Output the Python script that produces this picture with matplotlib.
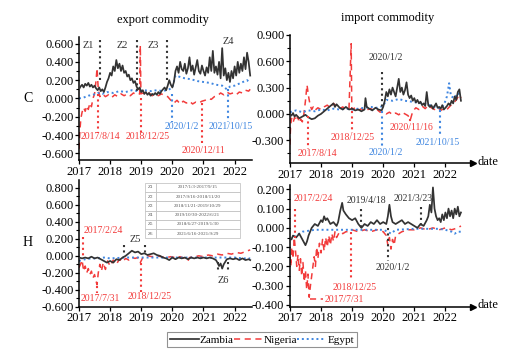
import matplotlib
matplotlib.use("Agg")
import matplotlib.pyplot as plt
from matplotlib.ticker import FormatStrFormatter, MultipleLocator, AutoMinorLocator
from matplotlib.lines import Line2D

plt.rcParams['font.family'] = ['Liberation Serif', 'DejaVu Serif']
plt.rcParams['axes.unicode_minus'] = False

BLACK = '#333333'
RED = '#f23b3b'
BLUE = '#3f86e0'

# ---- data: (decimal year, value) ----
zam_exp_c = [(2017.00, 0.10), (2017.05, 0.13), (2017.10, 0.15), (2017.15, 0.12), (2017.20, 0.16), (2017.25, 0.14),
             (2017.30, 0.17), (2017.35, 0.13), (2017.40, 0.15), (2017.45, 0.12), (2017.50, 0.14), (2017.55, 0.11),
             (2017.60, 0.09), (2017.65, 0.12), (2017.70, 0.08), (2017.75, 0.10), (2017.80, 0.07), (2017.85, 0.12),
             (2017.90, 0.18), (2017.95, 0.22), (2018.00, 0.28), (2018.05, 0.25), (2018.10, 0.35), (2018.15, 0.30),
             (2018.20, 0.42), (2018.25, 0.33), (2018.30, 0.38), (2018.35, 0.30), (2018.40, 0.36), (2018.45, 0.28),
             (2018.50, 0.30), (2018.55, 0.24), (2018.60, 0.26), (2018.65, 0.20), (2018.70, 0.22), (2018.75, 0.17),
             (2018.80, 0.19), (2018.85, 0.13), (2018.90, 0.10), (2018.95, 0.12), (2019.00, 0.07), (2019.05, 0.09),
             (2019.10, 0.05), (2019.15, 0.07), (2019.20, 0.04), (2019.25, 0.06), (2019.30, 0.03), (2019.35, 0.05),
             (2019.40, 0.04), (2019.45, 0.06), (2019.50, 0.04), (2019.55, 0.07), (2019.60, 0.05), (2019.65, 0.08),
             (2019.70, 0.10), (2019.75, 0.12), (2019.80, 0.09), (2019.85, 0.14), (2019.90, 0.20), (2019.95, 0.15),
             (2020.00, 0.12), (2020.05, 0.18), (2020.10, 0.30), (2020.15, 0.35), (2020.20, 0.28), (2020.25, 0.40),
             (2020.30, 0.32), (2020.35, 0.30), (2020.40, 0.38), (2020.45, 0.27), (2020.50, 0.33), (2020.55, 0.45),
             (2020.60, 0.30), (2020.65, 0.36), (2020.70, 0.26), (2020.75, 0.34), (2020.80, 0.42), (2020.85, 0.30),
             (2020.90, 0.27), (2020.95, 0.36), (2021.00, 0.30), (2021.05, 0.25), (2021.10, 0.34), (2021.15, 0.28),
             (2021.20, 0.45), (2021.25, 0.30), (2021.30, 0.52), (2021.35, 0.28), (2021.40, 0.35), (2021.45, 0.26),
             (2021.50, 0.40), (2021.55, 0.22), (2021.60, 0.55), (2021.65, 0.25), (2021.70, 0.33), (2021.75, 0.20),
             (2021.80, 0.28), (2021.85, 0.18), (2021.90, 0.30), (2021.95, 0.22), (2022.00, 0.35), (2022.05, 0.25),
             (2022.10, 0.40), (2022.15, 0.28), (2022.20, 0.38), (2022.25, 0.30), (2022.30, 0.45), (2022.35, 0.32),
             (2022.40, 0.50), (2022.45, 0.40), (2022.50, 0.25)]

nga_exp_c = [(2017.00, -0.55), (2017.03, -0.35), (2017.06, -0.22), (2017.10, -0.15), (2017.15, -0.10), (2017.20, -0.14),
             (2017.25, -0.08), (2017.30, -0.12), (2017.35, -0.05), (2017.40, -0.09), (2017.45, 0.00), (2017.50, 0.05),
             (2017.55, 0.20), (2017.58, 0.33), (2017.62, 0.10), (2017.67, 0.02), (2017.75, 0.05), (2017.85, 0.02),
             (2017.95, 0.04), (2018.05, 0.01), (2018.15, 0.04), (2018.25, 0.02), (2018.35, 0.05), (2018.45, 0.03),
             (2018.55, 0.05), (2018.65, 0.03), (2018.75, 0.06), (2018.85, 0.04), (2018.95, 0.05), (2018.97, 0.58),
             (2018.99, 0.05), (2019.05, 0.06), (2019.15, 0.04), (2019.25, 0.06), (2019.35, 0.03), (2019.45, 0.05),
             (2019.55, 0.03), (2019.65, 0.05), (2019.75, 0.03), (2019.85, 0.02), (2019.95, -0.02), (2020.05, -0.05),
             (2020.15, -0.02), (2020.25, -0.06), (2020.35, -0.03), (2020.45, -0.05), (2020.55, -0.03), (2020.65, -0.06),
             (2020.75, -0.04), (2020.85, -0.05), (2020.95, -0.03), (2021.05, -0.02), (2021.15, 0.00), (2021.25, -0.01),
             (2021.35, 0.02), (2021.45, 0.03), (2021.55, 0.06), (2021.65, 0.04), (2021.75, 0.07), (2021.85, 0.05),
             (2021.95, 0.06), (2022.05, 0.04), (2022.15, 0.07), (2022.25, 0.06), (2022.35, 0.09), (2022.45, 0.08),
             (2022.50, 0.10)]

egy_exp_c = [(2017.00, 0.00), (2017.15, 0.01), (2017.30, 0.03), (2017.45, 0.04), (2017.60, 0.06), (2017.75, 0.05),
             (2017.90, 0.07), (2018.10, 0.06), (2018.30, 0.08), (2018.50, 0.07), (2018.70, 0.09), (2018.90, 0.08),
             (2019.10, 0.09), (2019.30, 0.08), (2019.50, 0.09), (2019.70, 0.08), (2019.90, 0.10), (2020.00, 0.12),
             (2020.10, 0.25), (2020.20, 0.24), (2020.40, 0.22), (2020.60, 0.21), (2020.80, 0.19), (2021.00, 0.18),
             (2021.20, 0.17), (2021.40, 0.15), (2021.60, 0.14), (2021.75, 0.10), (2021.85, 0.13), (2022.00, 0.14),
             (2022.20, 0.17), (2022.40, 0.20), (2022.50, 0.17)]

zam_imp_c = [(2017.00, 0.00), (2017.05, -0.02), (2017.10, 0.01), (2017.15, -0.03), (2017.20, -0.01), (2017.30, -0.05),
             (2017.40, -0.03), (2017.50, -0.01), (2017.60, -0.04), (2017.70, -0.06), (2017.80, -0.05), (2017.90, -0.02),
             (2018.00, 0.00), (2018.10, 0.03), (2018.20, 0.06), (2018.30, 0.09), (2018.40, 0.12), (2018.45, 0.08),
             (2018.50, 0.11), (2018.60, 0.07), (2018.70, 0.05), (2018.80, 0.08), (2018.90, 0.05), (2019.00, 0.06),
             (2019.10, 0.04), (2019.20, 0.05), (2019.30, 0.03), (2019.40, 0.05), (2019.43, 0.18), (2019.47, 0.08),
             (2019.55, 0.06), (2019.65, 0.04), (2019.75, 0.07), (2019.85, 0.05), (2019.95, 0.04), (2020.00, 0.08),
             (2020.05, 0.15), (2020.10, 0.25), (2020.15, 0.20), (2020.20, 0.28), (2020.25, 0.22), (2020.30, 0.30),
             (2020.35, 0.25), (2020.40, 0.20), (2020.45, 0.30), (2020.50, 0.40), (2020.55, 0.25), (2020.60, 0.30),
             (2020.65, 0.22), (2020.70, 0.27), (2020.75, 0.36), (2020.80, 0.22), (2020.85, 0.18), (2020.90, 0.21),
             (2020.95, 0.15), (2021.00, 0.18), (2021.05, 0.13), (2021.10, 0.16), (2021.15, 0.12), (2021.20, 0.14),
             (2021.25, 0.10), (2021.30, 0.12), (2021.35, 0.09), (2021.40, 0.25), (2021.45, 0.10), (2021.50, 0.08),
             (2021.55, 0.10), (2021.60, 0.06), (2021.65, 0.09), (2021.70, 0.12), (2021.75, 0.07), (2021.80, 0.08),
             (2021.85, 0.06), (2021.90, 0.10), (2021.95, 0.05), (2022.00, 0.07), (2022.05, 0.09), (2022.10, 0.12),
             (2022.15, 0.10), (2022.20, 0.15), (2022.25, 0.12), (2022.30, 0.20), (2022.35, 0.16), (2022.40, 0.25),
             (2022.45, 0.28), (2022.50, 0.15)]

nga_imp_c = [(2017.00, -0.35), (2017.02, -0.15), (2017.05, -0.05), (2017.10, -0.10), (2017.15, -0.04), (2017.20, -0.08),
             (2017.25, -0.03), (2017.30, -0.10), (2017.35, -0.06), (2017.40, -0.09), (2017.45, 0.00), (2017.50, 0.15),
             (2017.55, 0.33), (2017.60, 0.20), (2017.65, 0.10), (2017.70, 0.05), (2017.75, 0.08), (2017.80, 0.04),
             (2017.90, 0.07), (2018.00, 0.05), (2018.10, 0.08), (2018.20, 0.10), (2018.30, 0.07), (2018.40, 0.12),
             (2018.50, 0.09), (2018.60, 0.06), (2018.70, 0.08), (2018.80, 0.05), (2018.90, 0.06), (2018.97, 0.80),
             (2018.99, 0.05), (2019.10, 0.07), (2019.20, 0.04), (2019.30, 0.06), (2019.40, 0.03), (2019.50, 0.05),
             (2019.60, 0.06), (2019.70, 0.04), (2019.80, 0.05), (2019.90, 0.02), (2020.00, 0.03), (2020.10, 0.00),
             (2020.20, 0.02), (2020.30, -0.01), (2020.40, 0.01), (2020.50, -0.01), (2020.60, 0.02), (2020.70, 0.00),
             (2020.80, -0.02), (2020.87, -0.07), (2020.95, 0.03), (2021.05, 0.07), (2021.15, 0.05), (2021.25, 0.09),
             (2021.35, 0.06), (2021.45, 0.10), (2021.55, 0.07), (2021.65, 0.05), (2021.75, 0.08), (2021.85, 0.04),
             (2021.95, 0.06), (2022.05, 0.05), (2022.15, 0.09), (2022.25, 0.12), (2022.35, 0.16), (2022.45, 0.22),
             (2022.50, 0.18)]

egy_imp_c = [(2017.00, 0.02), (2017.20, 0.04), (2017.40, 0.02), (2017.60, 0.04), (2017.80, 0.03), (2018.00, 0.05),
             (2018.20, 0.04), (2018.40, 0.06), (2018.60, 0.05), (2018.80, 0.06), (2019.00, 0.05), (2019.20, 0.06),
             (2019.40, 0.07), (2019.60, 0.08), (2019.80, 0.07), (2020.00, 0.09), (2020.10, 0.16), (2020.30, 0.15),
             (2020.50, 0.17), (2020.70, 0.15), (2020.90, 0.14), (2021.10, 0.13), (2021.30, 0.12), (2021.50, 0.10),
             (2021.70, 0.08), (2021.83, 0.06), (2021.95, 0.10), (2022.05, 0.20), (2022.12, 0.35), (2022.18, 0.20),
             (2022.30, 0.18), (2022.40, 0.24), (2022.50, 0.20)]

zam_exp_h = [(2017.00, -0.02), (2017.10, -0.03), (2017.20, -0.02), (2017.30, -0.03), (2017.40, -0.01), (2017.50, -0.03),
             (2017.60, -0.02), (2017.70, -0.04), (2017.80, -0.06), (2017.90, -0.08), (2018.00, -0.06), (2018.10, -0.08),
             (2018.20, -0.04), (2018.30, -0.05), (2018.40, -0.02), (2018.50, 0.00), (2018.60, 0.03), (2018.70, 0.06),
             (2018.80, 0.04), (2018.90, 0.05), (2019.00, 0.02), (2019.10, 0.03), (2019.20, 0.01), (2019.30, 0.02),
             (2019.40, 0.03), (2019.50, 0.01), (2019.60, 0.00), (2019.70, -0.02), (2019.80, -0.03), (2019.90, -0.05),
             (2020.00, -0.02), (2020.10, -0.04), (2020.20, -0.02), (2020.30, -0.03), (2020.40, -0.02), (2020.50, -0.04),
             (2020.60, -0.02), (2020.70, -0.03), (2020.80, -0.02), (2020.90, -0.03), (2021.00, -0.02), (2021.10, -0.03),
             (2021.20, -0.02), (2021.30, -0.03), (2021.40, -0.05), (2021.45, -0.08), (2021.50, -0.12), (2021.55, -0.09),
             (2021.60, -0.15), (2021.65, -0.10), (2021.70, -0.07), (2021.75, -0.04), (2021.85, -0.03), (2021.95, -0.04),
             (2022.05, -0.03), (2022.15, -0.05), (2022.25, -0.03), (2022.35, -0.05), (2022.45, -0.04), (2022.50, -0.05)]

nga_exp_h = [(2017.00, -0.14), (2017.05, -0.10), (2017.10, -0.05), (2017.15, -0.18), (2017.20, -0.12), (2017.25, -0.20),
             (2017.30, -0.15), (2017.35, -0.22), (2017.40, -0.18), (2017.45, -0.26), (2017.50, -0.22), (2017.55, -0.30),
             (2017.58, -0.34), (2017.62, -0.20), (2017.67, -0.10), (2017.72, -0.18), (2017.78, -0.08), (2017.85, -0.16),
             (2017.92, -0.06), (2018.00, -0.12), (2018.10, -0.05), (2018.20, -0.10), (2018.30, -0.04), (2018.40, -0.07),
             (2018.50, -0.03), (2018.60, -0.05), (2018.70, -0.02), (2018.80, -0.03), (2018.90, -0.02), (2018.97, -0.08),
             (2019.05, -0.02), (2019.20, 0.00), (2019.35, -0.01), (2019.50, 0.00), (2019.65, -0.01), (2019.80, -0.02),
             (2019.95, -0.01), (2020.10, -0.02), (2020.25, -0.01), (2020.40, -0.03), (2020.50, -0.06), (2020.55, -0.02),
             (2020.70, -0.01), (2020.85, 0.00), (2021.00, -0.01), (2021.15, 0.01), (2021.30, 0.00), (2021.45, 0.02),
             (2021.60, 0.01), (2021.75, 0.03), (2021.90, 0.02), (2022.05, 0.04), (2022.20, 0.03), (2022.35, 0.05),
             (2022.50, 0.07)]

egy_exp_h = [(2017.00, -0.06), (2017.10, -0.05), (2017.20, -0.04), (2017.40, -0.03), (2017.60, -0.03), (2017.80, -0.02),
             (2018.00, -0.03), (2018.50, -0.02), (2019.00, -0.02), (2019.50, -0.02), (2020.00, -0.02), (2020.50, -0.02),
             (2021.00, -0.02), (2021.50, -0.02), (2022.00, -0.02), (2022.30, -0.03), (2022.50, -0.03)]

zam_imp_h = [(2017.00, -0.05), (2017.05, -0.06), (2017.10, -0.04), (2017.20, -0.05), (2017.30, -0.03), (2017.40, -0.06),
             (2017.50, -0.09), (2017.55, -0.07), (2017.60, -0.04), (2017.70, 0.00), (2017.80, 0.02), (2017.90, 0.01),
             (2018.00, 0.04), (2018.05, 0.03), (2018.10, 0.06), (2018.15, 0.04), (2018.20, 0.05), (2018.30, 0.02),
             (2018.40, 0.03), (2018.50, 0.01), (2018.55, 0.03), (2018.62, 0.09), (2018.68, 0.13), (2018.72, 0.09),
             (2018.80, 0.07), (2018.90, 0.05), (2019.00, 0.04), (2019.10, 0.05), (2019.20, 0.02), (2019.30, 0.00),
             (2019.40, 0.02), (2019.50, 0.01), (2019.60, 0.03), (2019.70, 0.02), (2019.80, 0.04), (2019.90, 0.02),
             (2020.00, 0.03), (2020.10, 0.02), (2020.15, 0.06), (2020.20, 0.12), (2020.25, 0.06), (2020.30, 0.03),
             (2020.40, 0.02), (2020.50, 0.03), (2020.60, 0.04), (2020.70, 0.02), (2020.80, 0.03), (2020.90, 0.02),
             (2021.00, 0.01), (2021.10, 0.00), (2021.20, 0.02), (2021.30, 0.01), (2021.40, 0.04), (2021.45, 0.06),
             (2021.50, 0.12), (2021.55, 0.08), (2021.60, 0.21), (2021.65, 0.10), (2021.70, 0.06), (2021.75, 0.04),
             (2021.80, 0.05), (2021.85, 0.03), (2021.90, 0.07), (2021.95, 0.04), (2022.00, 0.08), (2022.05, 0.05),
             (2022.10, 0.10), (2022.15, 0.06), (2022.20, 0.09), (2022.25, 0.05), (2022.30, 0.10), (2022.35, 0.07),
             (2022.40, 0.11), (2022.45, 0.06), (2022.50, 0.08)]

nga_imp_h = [(2017.00, -0.15), (2017.03, -0.20), (2017.06, -0.10), (2017.10, -0.16), (2017.14, -0.05), (2017.18, -0.12),
             (2017.22, -0.20), (2017.26, -0.14), (2017.30, -0.22), (2017.34, -0.16), (2017.38, -0.25), (2017.42, -0.18),
             (2017.46, -0.28), (2017.50, -0.22), (2017.54, -0.32), (2017.58, -0.24), (2017.62, -0.36), (2017.66, -0.30),
             (2017.70, -0.25), (2017.74, -0.20), (2017.78, -0.15), (2017.82, -0.20), (2017.86, -0.10), (2017.90, -0.16),
             (2017.95, -0.08), (2018.00, -0.13), (2018.05, -0.06), (2018.10, -0.12), (2018.15, -0.05), (2018.20, -0.10),
             (2018.25, -0.04), (2018.30, -0.09), (2018.35, -0.03), (2018.40, -0.07), (2018.45, -0.02), (2018.50, -0.05),
             (2018.60, -0.02), (2018.70, -0.03), (2018.80, -0.02), (2018.90, -0.02), (2019.00, -0.01), (2019.20, -0.02),
             (2019.40, -0.01), (2019.60, -0.02), (2019.80, -0.01), (2020.00, -0.02), (2020.10, -0.04), (2020.15, -0.09),
             (2020.20, -0.05), (2020.25, -0.11), (2020.30, -0.06), (2020.35, -0.09), (2020.40, -0.04), (2020.50, -0.03),
             (2020.60, -0.02), (2020.80, -0.01), (2021.00, -0.01), (2021.20, 0.00), (2021.40, -0.01), (2021.60, 0.00),
             (2021.80, -0.01), (2022.00, 0.00), (2022.20, -0.01), (2022.40, 0.00), (2022.50, 0.01)]

egy_imp_h = [(2017.00, -0.06), (2017.10, -0.05), (2017.20, -0.04), (2017.30, -0.03), (2017.40, -0.02), (2017.60, -0.015),
             (2017.80, -0.01), (2018.50, -0.01), (2019.50, -0.01), (2020.00, -0.01), (2020.15, -0.02), (2020.25, -0.03),
             (2020.40, -0.01), (2021.00, -0.005), (2021.80, -0.005), (2022.00, -0.01), (2022.20, -0.02), (2022.30, -0.03),
             (2022.40, -0.02), (2022.50, -0.02)]

zone_ids = ['Z1', 'Z2', 'Z3', 'Z4', 'Z5', 'Z6']
zone_spans = ['2017/1/3-2017/9/15', '2017/9/16-2018/11/20', '2018/11/21-2019/10/29',
              '2019/10/30-2022/6/21', '2018/6/27-2019/1/30', '2021/6/16-2021/9/29']
years = [2017, 2018, 2019, 2020, 2021, 2022]


def draw(ax, zam, nga, egy):
    ax.plot(*zip(*zam), color=BLACK, lw=1.25, zorder=3)
    ax.plot(*zip(*nga), color=RED, lw=1.1, ls=(0, (4, 3)), zorder=2)
    ax.plot(*zip(*egy), color=BLUE, lw=1.4, ls=(0, (1, 1.5)), zorder=2)


def vmark(ax, x, y0, y1, color):
    ax.plot([x, x], [y0, y1], color=color, lw=1.5, ls=(0, (1, 1.6)), zorder=4)


def note(ax, x, y, s, color, size=7):
    ax.text(x, y, s, color=color, fontsize=size, ha='center', va='center', zorder=5)


def style(ax, ylim, step, xmax, arrow=False):
    ax.set_xlim(2017, xmax)
    ax.set_ylim(*ylim)
    ax.set_xticks(years)
    ax.yaxis.set_major_locator(MultipleLocator(step))
    ax.yaxis.set_minor_locator(AutoMinorLocator(2))
    ax.yaxis.set_major_formatter(FormatStrFormatter('%.3f'))
    for s in ['top', 'right']:
        ax.spines[s].set_visible(False)
    for s in ['left', 'bottom']:
        ax.spines[s].set_linewidth(1.1)
    ax.tick_params(labelsize=9, length=3, width=0.9, pad=1)
    ax.tick_params(which='minor', length=2, width=0.8)
    if arrow:
        ax.plot([1], [0], marker='>', ms=4, color='black', transform=ax.transAxes, clip_on=False)


fig = plt.figure(figsize=(5.30, 3.64), dpi=100)
ax_ec = fig.add_axes([0.149, 0.560, 0.326, 0.338])
ax_ic = fig.add_axes([0.547, 0.552, 0.345, 0.352])
ax_eh = fig.add_axes([0.149, 0.157, 0.326, 0.349])
ax_ih = fig.add_axes([0.547, 0.157, 0.345, 0.335])

draw(ax_ec, zam_exp_c, nga_exp_c, egy_exp_c)
draw(ax_ic, zam_imp_c, nga_imp_c, egy_imp_c)
draw(ax_eh, zam_exp_h, nga_exp_h, egy_exp_h)
draw(ax_ih, zam_imp_h, nga_imp_h, egy_imp_h)

style(ax_ec, (-0.674, 0.67), 0.2, 2022.55)
style(ax_ic, (-0.56, 0.90), 0.3, 2022.88, arrow=True)
style(ax_eh, (-0.6, 0.894), 0.2, 2022.55)
style(ax_ih, (-0.41, 0.223), 0.1, 2022.88, arrow=True)

# export C annotations
for x, y1 in [(2017.67, 0.18), (2018.86, 0.08), (2019.82, 0.2)]:
    vmark(ax_ec, x, 0.64, y1, BLACK)
for x, lab, y in [(2017.3, 'Z1', 0.58), (2018.38, 'Z2', 0.58), (2019.37, 'Z3', 0.58), (2021.8, 'Z4', 0.62)]:
    note(ax_ec, x, y, lab, BLACK, 7.5)
vmark(ax_ec, 2017.6, 0.05, -0.38, RED)
note(ax_ec, 2017.7, -0.42, '2017/8/14', RED)
vmark(ax_ec, 2018.98, 0.0, -0.38, RED)
note(ax_ec, 2019.2, -0.42, '2018/12/25', RED)
vmark(ax_ec, 2020.0, 0.05, -0.26, BLUE)
note(ax_ec, 2020.3, -0.31, '2020/1/2', BLUE)
vmark(ax_ec, 2021.78, 0.1, -0.26, BLUE)
note(ax_ec, 2021.88, -0.31, '2021/10/15', BLUE)
vmark(ax_ec, 2020.94, -0.05, -0.5, RED)
note(ax_ec, 2021.0, -0.57, '2020/12/11', RED)

# import C annotations
vmark(ax_ic, 2017.57, -0.02, -0.4, RED)
note(ax_ic, 2017.87, -0.45, '2017/8/14', RED)
vmark(ax_ic, 2019.0, 0.03, -0.22, RED)
note(ax_ic, 2019.03, -0.27, '2018/12/25', RED)
vmark(ax_ic, 2019.97, 0.48, 0.08, BLACK)
note(ax_ic, 2020.1, 0.64, '2020/1/2', BLACK)
vmark(ax_ic, 2019.97, 0.03, -0.38, BLUE)
note(ax_ic, 2020.1, -0.44, '2020/1/2', BLUE)
vmark(ax_ic, 2020.87, -0.06, -0.12, RED)
note(ax_ic, 2020.9, -0.16, '2020/11/16', RED)
vmark(ax_ic, 2021.83, 0.05, -0.26, BLUE)
note(ax_ic, 2021.77, -0.32, '2021/10/15', BLUE)

# export H annotations
vmark(ax_eh, 2017.12, 0.22, -0.02, RED)
note(ax_eh, 2017.78, 0.30, '2017/2/24', RED)
vmark(ax_eh, 2017.58, -0.36, -0.44, RED)
note(ax_eh, 2017.7, -0.5, '2017/7/31', RED)
vmark(ax_eh, 2019.0, -0.08, -0.42, RED)
note(ax_eh, 2019.27, -0.48, '2018/12/25', RED)
vmark(ax_eh, 2018.45, 0.13, 0.01, BLACK)
vmark(ax_eh, 2019.12, 0.13, 0.02, BLACK)
note(ax_eh, 2018.8, 0.19, 'Z5', BLACK, 7.5)
vmark(ax_eh, 2021.47, -0.07, -0.18, BLACK)
vmark(ax_eh, 2021.78, -0.07, -0.18, BLACK)
note(ax_eh, 2021.63, -0.29, 'Z6', BLACK, 7.5)

tbl = ax_eh.table(cellText=[[z, s] for z, s in zip(zone_ids, zone_spans)],
                  colWidths=[0.12, 0.88], bbox=[0.38, 0.54, 0.55, 0.436],
                  cellLoc='center')
tbl.auto_set_font_size(False)
tbl.set_fontsize(3.6)
for cell in tbl.get_celld().values():
    cell.set_edgecolor('#bbbbbb')
    cell.set_linewidth(0.5)
    cell.get_text().set_color('#555555')

# import H annotations
vmark(ax_ih, 2017.16, 0.10, -0.05, RED)
note(ax_ih, 2017.76, 0.15, '2017/2/24', RED)
ax_ih.plot([2017.65, 2018.07], [-0.37, -0.37], color=RED, lw=1.1, ls=(0, (4, 3)))
ax_ih.text(2018.12, -0.37, '2017/7/31', color=RED, fontsize=7, ha='left', va='center')
vmark(ax_ih, 2018.98, -0.02, -0.27, RED)
note(ax_ih, 2019.08, -0.31, '2018/12/25', RED)
vmark(ax_ih, 2019.27, 0.10, 0.0, BLACK)
note(ax_ih, 2019.45, 0.14, '2019/4/18', BLACK)
vmark(ax_ih, 2020.17, 0.0, -0.17, BLACK)
note(ax_ih, 2020.3, -0.205, '2020/1/2', BLACK)
vmark(ax_ih, 2021.2, 0.11, 0.0, BLACK)
note(ax_ih, 2020.95, 0.155, '2021/3/23', BLACK)

# titles, labels
fig.text(163 / 530, 1 - 20 / 364, 'export commodity', ha='center', va='center', fontsize=9)
fig.text(388 / 530, 1 - 18 / 364, 'import commodity', ha='center', va='center', fontsize=9)
fig.text(28 / 530, 1 - 98 / 364, 'C', ha='center', va='center', fontsize=10)
fig.text(28 / 530, 1 - 242 / 364, 'H', ha='center', va='center', fontsize=10)
fig.text(478 / 530, 1 - 162 / 364, 'date', ha='left', va='center', fontsize=9)
fig.text(478 / 530, 1 - 305 / 364, 'date', ha='left', va='center', fontsize=9)

handles = [Line2D([], [], color=BLACK, lw=1.25),
           Line2D([], [], color=RED, lw=1.1, ls=(0, (4, 3))),
           Line2D([], [], color=BLUE, lw=1.4, ls=(0, (1, 1.5)))]
leg = fig.legend(handles, ['Zambia', 'Nigeria', 'Egypt'], loc='center', bbox_to_anchor=(0.494, 0.067),
                 ncol=3, fontsize=8, frameon=True, fancybox=False, edgecolor='#777777',
                 handlelength=2.6, handletextpad=0.1, columnspacing=0.0, borderpad=0.25,
                 borderaxespad=0)
leg.get_frame().set_linewidth(0.8)

fig.savefig('out.png', dpi=100)
